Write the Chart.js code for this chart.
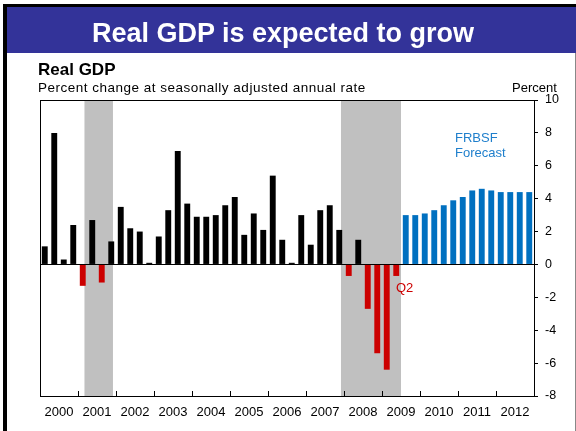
<!DOCTYPE html>
<html>
<head>
<meta charset="utf-8">
<script src="https://cdn.jsdelivr.net/npm/chart.js@4/dist/chart.umd.min.js"></script>
<style>
  body { margin: 0; background: #fff; font-family: "Liberation Sans", Arial, sans-serif; }
  #page { position: relative; width: 576px; height: 431px; overflow: hidden; }
  #chart-box { position: absolute; left: 0; top: 0; width: 576px; height: 431px; }
  .txt { position: absolute; white-space: nowrap; }
</style>
</head>
<body>
<div id="page">
  <div id="chart-box"><canvas id="gdp-chart"></canvas></div>
  <!-- рамка и шапка -->
  <div style="position:absolute;left:3px;top:4px;width:573px;height:3px;background:#000"></div>
  <div style="position:absolute;left:3px;top:4px;width:4px;height:427px;background:#000"></div>
  <div style="position:absolute;left:7px;top:7px;width:569px;height:46px;background:#333399"></div>
  <div style="position:absolute;left:575px;top:53px;width:1px;height:378px;background:#888"></div>
  <div class="txt" style="left:0px;top:13px;width:566px;height:40px;line-height:40px;text-align:center;color:#fff;font-weight:bold;font-size:27px">Real GDP is expected to grow</div>
  <div class="txt" style="left:38px;top:60px;font-weight:bold;font-size:17px">Real GDP</div>
  <div class="txt" style="left:38px;top:80px;font-size:13.5px;letter-spacing:0.5px">Percent change at seasonally adjusted annual rate</div>
  <div class="txt" style="left:512px;top:80px;font-size:13px">Percent</div>
  <div class="txt" style="left:455px;top:130px;font-size:13px;line-height:15px;color:#1F7FCC">FRBSF<br>Forecast</div>
  <div class="txt" style="left:396px;top:280px;font-size:13px;color:#CC0000">Q2</div>
</div>
<script>
// Подписи лет и кварталов
const years = ['2000', '2001', '2002', '2003', '2004', '2005', '2006',
    '2007', '2008', '2009', '2010', '2011', '2012'];
const quarters = [];
years.forEach(y => ['Q1', 'Q2', 'Q3', 'Q4'].forEach(q => quarters.push(y + q)));

// Фактический рост ВВП, 2000Q1 - 2009Q2
const actualGrowth = [
    1.1, 8.0, 0.3, 2.4,
    -1.3, 2.7, -1.1, 1.4,
    3.5, 2.2, 2.0, 0.1,
    1.7, 3.3, 6.9, 3.7,
    2.9, 2.9, 3.0, 3.6,
    4.1, 1.8, 3.1, 2.1,
    5.4, 1.5, 0.1, 3.0,
    1.2, 3.3, 3.6, 2.1,
    -0.7, 1.5, -2.7, -5.4,
    -6.4, -0.7
];

// Прогноз FRBSF, 2009Q3 - 2012Q4
const forecastGrowth = [3.0, 3.0, 3.1, 3.3, 3.6, 3.9, 4.1, 4.5, 4.6, 4.5, 4.4, 4.4, 4.4, 4.4];

// Рецессии (доли года)
const recessionStart = [2001.17, 2007.92];
const recessionEnd = [2001.92, 2009.5];

const actualData = quarters.map((q, i) => i < actualGrowth.length ? actualGrowth[i] : null);
const forecastData = quarters.map((q, i) => i >= actualGrowth.length ? forecastGrowth[i - actualGrowth.length] : null);

// Серые полосы рецессий и рамка графика
const recessionPlugin = {
    id: 'recessions',
    beforeDraw(chart) {
        const {ctx, chartArea, scales} = chart;
        ctx.save();
        ctx.fillStyle = '#C0C0C0';
        for (let i = 0; i < recessionStart.length; i++) {
            const x1 = scales.x.getPixelForValue((recessionStart[i] - 2000) * 4 - 0.5);
            const x2 = scales.x.getPixelForValue((recessionEnd[i] - 2000) * 4 - 0.5);
            ctx.fillRect(x1, chartArea.top, x2 - x1, chartArea.bottom - chartArea.top);
        }
        ctx.restore();
    },
    afterDatasetsDraw(chart) {
        const {ctx, chartArea} = chart;
        ctx.save();
        ctx.strokeStyle = '#000';
        ctx.lineWidth = 1;
        ctx.strokeRect(chartArea.left + 0.5, chartArea.top + 0.5,
            chartArea.right - chartArea.left, chartArea.bottom - chartArea.top);
        ctx.restore();
    }
};

const ctx = document.getElementById('gdp-chart');
new Chart(ctx, {
    type: 'bar',
    data: {
        labels: quarters,
        datasets: [{
            data: actualData,
            backgroundColor: actualData.map(v => v < 0 ? '#CC0000' : '#000000'),
            grouped: false
        }, {
            data: forecastData,
            backgroundColor: '#0070C0',
            grouped: false
        }]
    },
    options: {
        responsive: true,
        maintainAspectRatio: false,
        animation: false,
        barPercentage: 0.62,
        categoryPercentage: 1,
        layout: {padding: {left: 40, top: 100, right: 0, bottom: 0}},
        plugins: {legend: {display: false}, tooltip: {enabled: false}},
        scales: {
            x: {display: false, offset: true},
            x2: {
                type: 'category',
                labels: years,
                position: 'bottom',
                offset: true,
                grid: {offset: true, drawOnChartArea: false, tickLength: -5, color: '#000', tickColor: '#000'},
                border: {display: true, color: '#000'},
                ticks: {color: '#000', padding: 14, maxRotation: 0, autoSkip: false,
                    font: {family: 'Liberation Sans', size: 13}},
                afterFit: function (scale) { scale.height = 35; }
            },
            y: {
                position: 'right',
                min: -8,
                max: 10,
                ticks: {stepSize: 2, color: '#000', padding: 7,
                    font: {family: 'Liberation Sans', size: 12.5}},
                grid: {
                    tickLength: 4,
                    tickColor: '#000',
                    color: c => c.tick && c.tick.value === 0 ? '#000' : 'rgba(0,0,0,0)'
                },
                border: {display: true, color: '#000'},
                afterFit: function (scale) { scale.width = 42; }
            }
        }
    },
    plugins: [recessionPlugin]
});
</script>
</body>
</html>
